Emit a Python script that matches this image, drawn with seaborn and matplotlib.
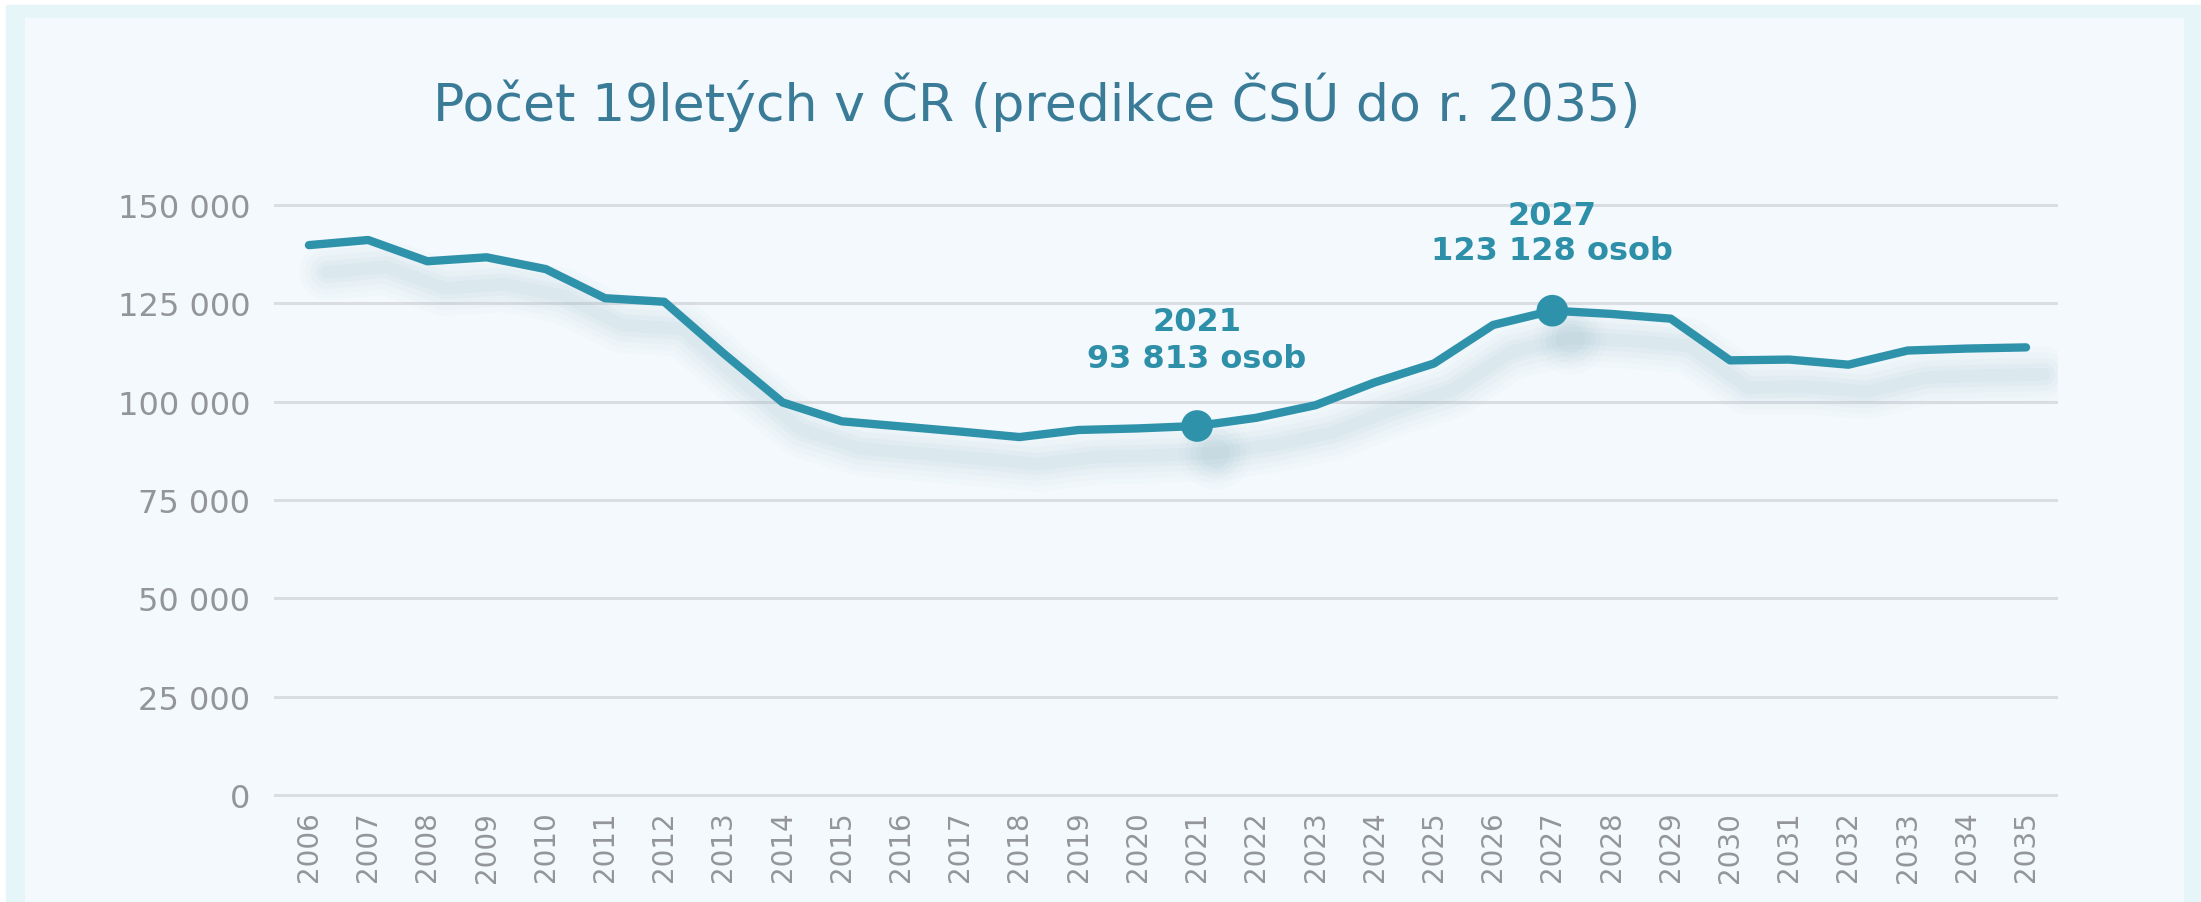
import matplotlib
matplotlib.use("Agg")
import pandas as pd
import matplotlib.pyplot as plt
import seaborn as sns
from matplotlib.patches import Rectangle
from matplotlib.transforms import offset_copy

# data
years = list(range(2006, 2036))
counts = [139800, 141100, 135700, 136700, 133700, 126300, 125400, 112300,
          99800, 95000, 93700, 92400, 91000, 92800, 93200, 93813,
          95900, 99100, 104900, 109700, 119500, 123128, 122300, 121100,
          110500, 110700, 109400, 113000, 113500, 113800]
y_ticks = [0, 25000, 50000, 75000, 100000, 125000, 150000]
y_labels = ["0", "25 000", "50 000", "75 000", "100 000", "125 000", "150 000"]
highlight_years = [2021, 2027]
highlight_labels = ["93 813 osob", "123 128 osob"]
title = "Počet 19letých v ČR (predikce ČSÚ do r. 2035)"

df = pd.DataFrame({"rok": years, "pocet": counts})
hl = df[df["rok"].isin(highlight_years)]

sns.set_theme(style="white")
plt.rcParams["font.family"] = ["DejaVu Sans"]

LINE = "#2e92ab"
TEXT = "#2e8fa8"
GREY = "#939598"

W, H = 2201, 903
fig = plt.figure(figsize=(W / 100, H / 100), dpi=100)
fig.patch.set_facecolor("white")
fig.patches.append(Rectangle((6 / W, 0), 1, 1 - 6 / H, transform=fig.transFigure,
                             color="#e6f5f8", zorder=-3))
fig.patches.append(Rectangle((25 / W, 0), (2183 - 25) / W, 1 - 19 / H,
                             transform=fig.transFigure, color="#f3f9fc", zorder=-2))

ax = fig.add_axes([274 / W, (H - 802) / H, (2058 - 274) / W, (802 - 200) / H])
ax.set_facecolor("none")

# soft drop shadow under the line
shadow_tr = offset_copy(ax.transData, fig=fig, x=18, y=-27, units="dots")
for lw, a in [(40, 0.025), (32, 0.035), (24, 0.05), (16, 0.06), (9, 0.07)]:
    ax.plot(years, counts, color="#8fb4c6", lw=lw, alpha=a, transform=shadow_tr,
            solid_capstyle="round", solid_joinstyle="round", zorder=1)
    ax.plot(highlight_years, hl["pocet"], "o", color="#8fb4c6", ms=lw + 12,
            alpha=a, mec="none", transform=shadow_tr, zorder=1)

sns.lineplot(data=df, x="rok", y="pocet", color=LINE, linewidth=6, ax=ax, zorder=3)
ax.lines[-1].set_solid_capstyle("round")
ax.lines[-1].set_solid_joinstyle("round")
sns.scatterplot(data=hl, x="rok", y="pocet", s=520, color=LINE, edgecolor="none",
                ax=ax, zorder=4)

# annotations (pixel offsets above the markers)
offsets = [(105, 68), (95, 60)]
for yr, lab, (o1, o2) in zip(highlight_years, highlight_labels, offsets):
    val = df.loc[df["rok"] == yr, "pocet"].iloc[0]
    ax.annotate(str(yr), (yr, val), xytext=(0, o1), textcoords="offset pixels",
                ha="center", va="center", fontsize=23, fontweight="bold", color=TEXT)
    ax.annotate(lab, (yr, val), xytext=(0, o2), textcoords="offset pixels",
                ha="center", va="center", fontsize=23, fontweight="bold", color=TEXT)

ax.set_xlim(2006 - 0.59, 2035 + 0.54)
ax.set_ylim(-1525, 151525)
ax.set_xticks(years)
ax.set_xticklabels([str(y) for y in years], rotation=90)
ax.set_yticks(y_ticks)
ax.set_yticklabels(y_labels)
ax.tick_params(axis="x", length=0, pad=7, labelsize=20, labelcolor=GREY)
ax.tick_params(axis="y", length=0, pad=17, labelsize=23, labelcolor=GREY)
ax.yaxis.grid(True, color="#dadde2", linewidth=2.2)
ax.xaxis.grid(False)
ax.set_axisbelow(True)
ax.set_xlabel("")
ax.set_ylabel("")
sns.despine(ax=ax, left=True, bottom=True)

fig.text(1037 / W, 1 - 102 / H, title, ha="center", va="center",
         fontsize=37.5, color="#3a7b98")

fig.savefig("out.png", dpi=100, facecolor=fig.get_facecolor())
